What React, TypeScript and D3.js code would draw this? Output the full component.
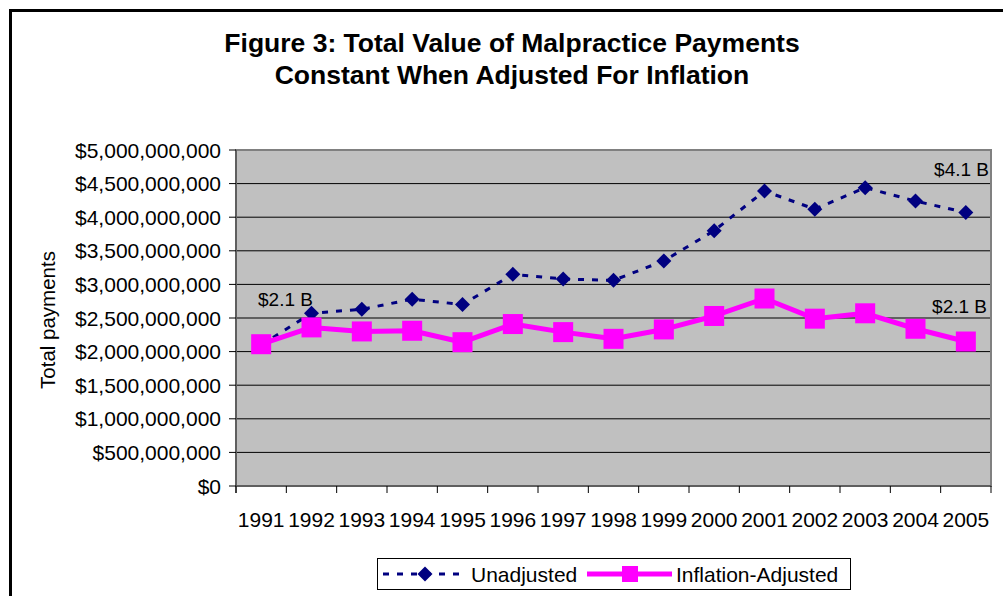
import React from "react";
import * as d3 from "d3";

const years = ["1991","1992","1993","1994","1995","1996","1997","1998","1999","2000","2001","2002","2003","2004","2005"];
const unadjusted = [2.10e9, 2.57e9, 2.63e9, 2.78e9, 2.70e9, 3.15e9, 3.08e9, 3.06e9, 3.35e9, 3.80e9, 4.39e9, 4.12e9, 4.44e9, 4.24e9, 4.07e9];
const inflationAdjusted = [2.11e9, 2.36e9, 2.30e9, 2.31e9, 2.14e9, 2.41e9, 2.29e9, 2.19e9, 2.33e9, 2.53e9, 2.79e9, 2.49e9, 2.57e9, 2.34e9, 2.15e9];
const yTicks = [0, 5e8, 1e9, 1.5e9, 2e9, 2.5e9, 3e9, 3.5e9, 4e9, 4.5e9, 5e9];
const titleLines = ["Figure 3: Total Value of Malpractice Payments", "Constant When Adjusted For Inflation"];
const seriesNames = ["Unadjusted", "Inflation-Adjusted"];
const annotations = [
  { text: "$2.1 B", series: 0, index: 0 },
  { text: "$4.1 B", series: 0, index: 14 },
  { text: "$2.1 B", series: 1, index: 14 },
];

const W = 1003, H = 596;
const left = 236, right = 991, top = 150, bottom = 486;
const FONT = "'Liberation Sans', Arial, sans-serif";
const NAVY = "#000080";
const MAG = "#FF00FF";

export default function App() {
  const x = d3.scaleBand<string>().domain(years).range([left, right]).padding(0);
  const y = d3.scaleLinear().domain([0, 5e9]).range([bottom, top]);
  const cx = (i: number) => (x(years[i]) as number) + x.bandwidth() / 2;
  const line = d3.line<number>().x((_, i) => cx(i)).y((d) => y(d));
  const fmt = (v: number) => "$" + d3.format(",")(v);
  const diamond = (px: number, py: number, r: number) =>
    `M${px},${py - r}L${px + r},${py}L${px},${py + r}L${px - r},${py}Z`;

  const annPos = (a: { series: number; index: number }) => {
    if (a.series === 0 && a.index === 0) return { x: 258, y: 306, anchor: "start" };
    if (a.series === 0) return { x: 989, y: 176, anchor: "end" };
    return { x: 987, y: 313, anchor: "end" };
  };

  return (
    <svg width={W} height={H} style={{ position: "absolute", left: 0, top: 0, background: "#fff" }} fontFamily={FONT}>
      <rect x={10.5} y={10.5} width={W + 20} height={H + 20} fill="#fff" stroke="#000" strokeWidth={3} />
      {titleLines.map((t, i) => (
        <text key={i} x={512} y={52 + i * 32} textAnchor="middle" fontWeight="bold" fontSize={26.5} fill="#000">{t}</text>
      ))}
      <rect x={left} y={top} width={right - left} height={bottom - top} fill="#C0C0C0" />
      {yTicks.slice(1, -1).map((t) => (
        <line key={t} x1={left} x2={right} y1={y(t)} y2={y(t)} stroke="#000" strokeWidth={1} />
      ))}
      <rect x={left} y={top} width={right - left} height={bottom - top} fill="none" stroke="#808080" strokeWidth={2} />
      <line x1={left} x2={left} y1={top} y2={bottom + 7} stroke="#555" strokeWidth={1.5} />
      <line x1={left} x2={right} y1={bottom} y2={bottom} stroke="#555" strokeWidth={1.5} />
      {yTicks.map((t) => (
        <g key={t}>
          <line x1={left - 7} x2={left} y1={y(t)} y2={y(t)} stroke="#000" strokeWidth={1} />
          <text x={221} y={y(t) + 7.5} textAnchor="end" fontSize={21} fill="#000">{fmt(t)}</text>
        </g>
      ))}
      {d3.range(years.length + 1).map((i) => {
        const px = left + i * x.bandwidth();
        return <line key={i} x1={px} x2={px} y1={bottom} y2={bottom + 7} stroke="#000" strokeWidth={1} />;
      })}
      {years.map((yr, i) => (
        <text key={yr} x={cx(i)} y={527} textAnchor="middle" fontSize={21} fill="#000">{yr}</text>
      ))}
      <text transform={`translate(55,320) rotate(-90)`} textAnchor="middle" fontSize={20.5} fill="#000">Total payments</text>

      <path d={line(unadjusted) || ""} fill="none" stroke={NAVY} strokeWidth={3} strokeDasharray="6,8" />
      {unadjusted.map((v, i) => (
        <path key={i} d={diamond(cx(i), y(v), 7.5)} fill={NAVY} />
      ))}
      <path d={line(inflationAdjusted) || ""} fill="none" stroke={MAG} strokeWidth={5} strokeLinejoin="round" />
      {inflationAdjusted.map((v, i) => (
        <rect key={i} x={cx(i) - 10} y={y(v) - 10} width={20} height={20} fill={MAG} />
      ))}

      {annotations.map((a, i) => {
        const p = annPos(a);
        return (
          <text key={i} x={p.x} y={p.y} textAnchor={p.anchor as any} fontSize={19} fill="#000">{a.text}</text>
        );
      })}

      <rect x={377.5} y={558.5} width={473} height={31} fill="#fff" stroke="#000" strokeWidth={1} />
      <line x1={383} x2={466} y1={574} y2={574} stroke={NAVY} strokeWidth={3} strokeDasharray="6,8" />
      <path d={diamond(425, 574, 7.5)} fill={NAVY} />
      <text x={471} y={582} fontSize={21} fill="#000">{seriesNames[0]}</text>
      <line x1={587} x2={672} y1={574} y2={574} stroke={MAG} strokeWidth={5} />
      <rect x={622} y={566} width={16} height={16} fill={MAG} />
      <text x={676} y={582} fontSize={21} fill="#000">{seriesNames[1]}</text>
    </svg>
  );
}
